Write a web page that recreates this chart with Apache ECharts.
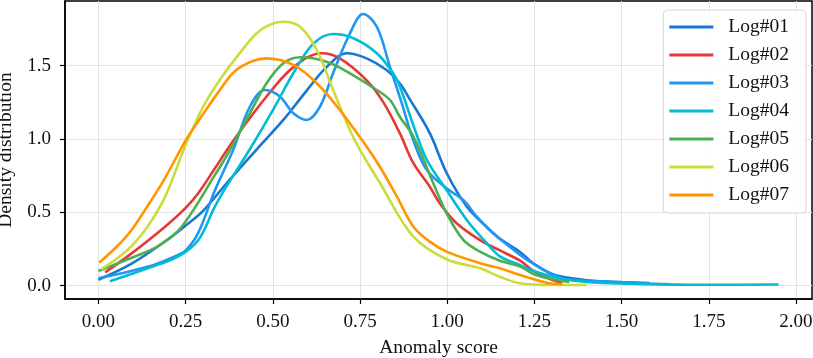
<!DOCTYPE html>
<html>
<head>
<meta charset="utf-8">
<script src="https://cdn.jsdelivr.net/npm/echarts@6/dist/echarts.min.js"></script>
<style>
  html, body { margin: 0; padding: 0; background: #fff; }
  #chart { width: 813px; height: 358px; }
</style>
</head>
<body>
<div id="chart"></div>
<script>
// density curves, [score, density]
const log01 = [[0.0,0.04],[0.095,0.15],[0.19,0.30],[0.25,0.41],[0.30,0.51],[0.368,0.70],[0.454,0.93],[0.53,1.13],[0.597,1.33],[0.654,1.49],[0.712,1.585],[0.769,1.55],[0.826,1.47],[0.864,1.38],[0.893,1.27],[0.95,1.04],[0.998,0.77],[1.056,0.54],[1.113,0.40],[1.151,0.32],[1.209,0.23],[1.247,0.15],[1.30,0.08],[1.39,0.04],[1.53,0.016],[1.64,0.01]];
const log02 = [[0.019,0.09],[0.095,0.22],[0.19,0.40],[0.25,0.53],[0.286,0.63],[0.334,0.80],[0.387,0.99],[0.482,1.29],[0.559,1.49],[0.64,1.585],[0.692,1.55],[0.769,1.40],[0.817,1.25],[0.864,1.04],[0.903,0.835],[0.95,0.675],[0.979,0.56],[1.027,0.425],[1.094,0.31],[1.151,0.24],[1.209,0.17],[1.247,0.10],[1.30,0.04],[1.33,0.02]];
const log03 = [[0.0,0.05],[0.143,0.13],[0.219,0.20],[0.25,0.24],[0.286,0.36],[0.334,0.65],[0.387,0.93],[0.434,1.22],[0.477,1.334],[0.52,1.29],[0.559,1.175],[0.597,1.13],[0.635,1.22],[0.673,1.45],[0.721,1.72],[0.759,1.852],[0.798,1.766],[0.836,1.49],[0.869,1.25],[0.903,0.99],[0.941,0.79],[0.998,0.664],[1.046,0.584],[1.085,0.47],[1.132,0.357],[1.209,0.21],[1.247,0.15],[1.33,0.05],[1.39,0.035],[1.50,0.025],[1.58,0.018]];
const log04 = [[0.033,0.03],[0.143,0.12],[0.229,0.20],[0.286,0.31],[0.334,0.54],[0.368,0.68],[0.434,0.93],[0.501,1.20],[0.559,1.45],[0.616,1.65],[0.673,1.716],[0.731,1.687],[0.798,1.585],[0.845,1.448],[0.864,1.36],[0.902,1.10],[0.941,0.86],[0.998,0.652],[1.056,0.448],[1.113,0.29],[1.151,0.20],[1.209,0.14],[1.247,0.10],[1.33,0.045],[1.43,0.02],[1.55,0.012],[1.72,0.006],[1.95,0.008]];
const log05 = [[0.0,0.10],[0.095,0.19],[0.171,0.27],[0.238,0.40],[0.334,0.755],[0.377,0.925],[0.434,1.175],[0.482,1.38],[0.53,1.516],[0.578,1.557],[0.654,1.527],[0.721,1.448],[0.798,1.334],[0.836,1.266],[0.864,1.152],[0.903,1.016],[0.96,0.698],[0.998,0.494],[1.046,0.312],[1.094,0.232],[1.151,0.17],[1.209,0.13],[1.247,0.08],[1.30,0.045],[1.35,0.025]];
const log06 = [[0.007,0.11],[0.05,0.18],[0.095,0.27],[0.14,0.40],[0.19,0.60],[0.25,0.96],[0.30,1.22],[0.35,1.41],[0.40,1.57],[0.463,1.74],[0.53,1.80],[0.578,1.766],[0.626,1.607],[0.673,1.334],[0.721,1.06],[0.75,0.925],[0.807,0.70],[0.903,0.334],[0.998,0.18],[1.094,0.118],[1.151,0.06],[1.209,0.016],[1.30,0.004],[1.40,0.004]];
const log07 = [[0.002,0.157],[0.05,0.26],[0.095,0.38],[0.14,0.54],[0.19,0.73],[0.25,0.99],[0.30,1.17],[0.35,1.34],[0.39,1.46],[0.44,1.53],[0.482,1.55],[0.559,1.505],[0.626,1.38],[0.692,1.198],[0.769,0.948],[0.807,0.811],[0.855,0.61],[0.903,0.402],[0.95,0.30],[0.998,0.232],[1.094,0.153],[1.151,0.118],[1.209,0.073],[1.285,0.02],[1.33,0.01]];

const seriesNames = ['Log#01', 'Log#02', 'Log#03', 'Log#04', 'Log#05', 'Log#06', 'Log#07'];
const seriesData = [log01, log02, log03, log04, log05, log06, log07];
const colors = ['#1976D2', '#E53935', '#2196F3', '#00BCD4', '#4CAF50', '#CDDC39', '#FF9800'];

const xTicks = [0, 0.25, 0.5, 0.75, 1.0, 1.25, 1.5, 1.75, 2.0];
const yTicks = [0, 0.5, 1.0, 1.5];

const font = '"Liberation Serif", "DejaVu Serif", serif';

const chart = echarts.init(document.getElementById('chart'), null, { renderer: 'canvas' });

chart.setOption({
  animation: false,
  color: colors,
  grid: {
    left: 65, right: 1, top: 1, bottom: 59,
    outerBoundsMode: 'none',
    show: true, borderColor: '#000', borderWidth: 1.5, backgroundColor: 'transparent'
  },
  legend: {
    orient: 'vertical',
    right: 7, top: 10,
    icon: 'rect',
    itemWidth: 44, itemHeight: 3,
    itemGap: 8,
    padding: [7, 17, 8, 6],
    borderColor: '#d6d6d6', borderWidth: 1, borderRadius: 4,
    backgroundColor: 'rgba(255,255,255,0.85)',
    textStyle: { fontFamily: font, fontSize: 19.5, color: '#111', lineHeight: 20, padding: [0, 0, 0, 10] },
    data: seriesNames
  },
  xAxis: {
    type: 'value',
    min: -0.096, max: 2.046,
    name: 'Anomaly score',
    nameLocation: 'middle', nameGap: 39,
    nameTextStyle: { fontFamily: font, fontSize: 19.5, color: '#111' },
    axisLine: { show: true, onZero: false, lineStyle: { color: '#000', width: 1.5 } },
    axisTick: { show: true, length: 5, customValues: xTicks, lineStyle: { color: '#000', width: 1.2 } },
    axisLabel: {
      customValues: xTicks, margin: 14,
      fontFamily: font, fontSize: 19, color: '#111',
      formatter: v => v.toFixed(2)
    },
    splitLine: { show: true, lineStyle: { color: '#e3e3e3', width: 1 } }
  },
  yAxis: {
    type: 'value',
    min: -0.091, max: 1.941,
    name: 'Density distribution',
    nameLocation: 'middle', nameGap: 41,
    nameTextStyle: { fontFamily: font, fontSize: 19.5, color: '#111' },
    axisLine: { show: true, onZero: false, lineStyle: { color: '#000', width: 1.5 } },
    axisTick: { show: true, length: 5, customValues: yTicks, lineStyle: { color: '#000', width: 1.2 } },
    axisLabel: {
      customValues: yTicks, margin: 14,
      fontFamily: font, fontSize: 19, color: '#111',
      formatter: v => v.toFixed(1)
    },
    splitLine: { show: true, lineStyle: { color: '#e3e3e3', width: 1 } }
  },
  series: seriesNames.map((name, i) => ({
    name: name,
    type: 'line',
    data: seriesData[i],
    smooth: 0.35,
    symbol: 'none',
    lineStyle: { width: 2.6, color: colors[i] },
    itemStyle: { color: colors[i] }
  }))
});
</script>
</body>
</html>
